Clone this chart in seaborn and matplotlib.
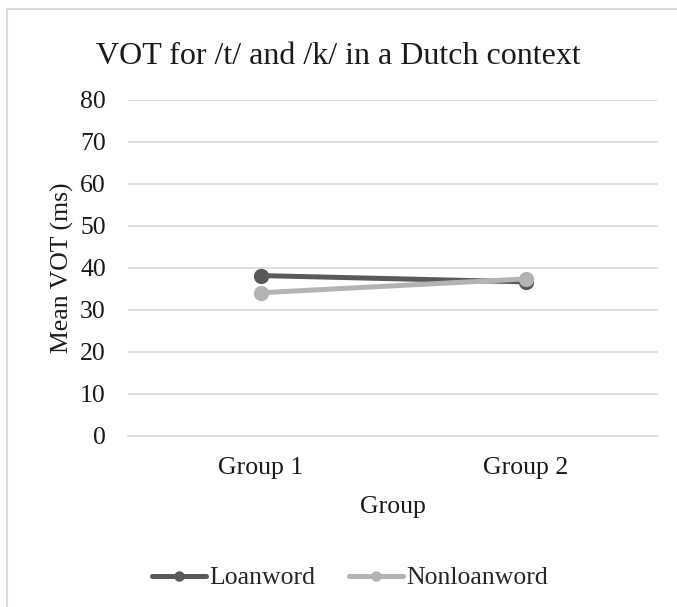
import matplotlib
matplotlib.use("Agg")
import matplotlib.pyplot as plt
import seaborn as sns
import pandas as pd
from matplotlib.lines import Line2D

groups = ["Group 1", "Group 2"]
loanword = [38.2, 36.7]
nonloanword = [34.1, 37.4]
series_names = ["Loanword", "Nonloanword"]
yticks = [0, 10, 20, 30, 40, 50, 60, 70, 80]

df = pd.DataFrame({
    "Group": groups * 2,
    "VOT": loanword + nonloanword,
    "Word type": [series_names[0]] * 2 + [series_names[1]] * 2,
})

sns.set_theme(style="white")
plt.rcParams["font.family"] = ["Liberation Serif", "DejaVu Serif"]

colors = {"Loanword": "#595959", "Nonloanword": "#b3b3b3"}
text_color = "#1a1a1a"
fs = 18.5

fig = plt.figure(figsize=(6.77, 6.07), dpi=100)
ax = fig.add_axes([128 / 677, 1 - 436 / 607, 530 / 677, 336 / 607])

sns.lineplot(data=df, x="Group", y="VOT", hue="Word type", palette=colors,
             marker="o", markersize=11, markeredgewidth=0, linewidth=3.6,
             legend=False, ax=ax)

ax.set_xlim(-0.5, 1.5)
ax.set_ylim(0, 80)
ax.set_yticks(yticks)
ax.yaxis.grid(True, color="#d9d9d9", linewidth=1.2)
ax.set_axisbelow(True)
for side in ["left", "right", "top"]:
    ax.spines[side].set_visible(False)
ax.spines["bottom"].set_color("#d9d9d9")
ax.spines["bottom"].set_linewidth(1.2)
ax.tick_params(axis="y", length=0, labelsize=fs, colors=text_color, pad=16)
ax.tick_params(axis="x", length=0, labelsize=fs, colors=text_color, pad=15)

ax.set_xlabel("Group", fontsize=fs, color=text_color, labelpad=12)
ax.set_ylabel("Mean VOT (ms)", fontsize=fs, color=text_color, labelpad=4)
fig.text(0.5, 1 - 57 / 607, "VOT for /t/ and /k/ in a Dutch context",
         ha="center", va="center", fontsize=23, color=text_color)

handles = [Line2D([0], [0], color=colors[n], marker="o", markersize=7.5,
                  markeredgewidth=0, linewidth=3.6) for n in series_names]
fig.legend(handles, series_names, loc="center",
           bbox_to_anchor=(350 / 677, 1 - 578 / 607),
           ncol=2, frameon=False, fontsize=fs, handlelength=2.1,
           handletextpad=0.15, columnspacing=1.3)

# chart-area frame (left and top edges)
fig.add_artist(Line2D([6.5 / 677, 6.5 / 677], [0, 1 - 9 / 607],
                      transform=fig.transFigure, color="#d9d9d9", linewidth=1.5))
fig.add_artist(Line2D([6.5 / 677, 1], [1 - 9 / 607, 1 - 9 / 607],
                      transform=fig.transFigure, color="#d9d9d9", linewidth=1.5))

fig.savefig("out.png", dpi=100, facecolor="white")
